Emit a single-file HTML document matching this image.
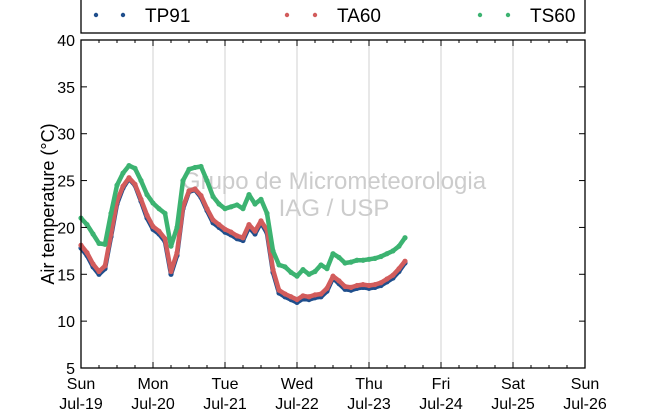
<!DOCTYPE html>
<html><head><meta charset="utf-8"><style>
body{margin:0;background:#fff;}
svg text{font-family:"Liberation Sans",sans-serif;}
</style></head><body>
<svg id="chart" width="650" height="409" viewBox="0 0 650 409" xmlns="http://www.w3.org/2000/svg">
<g id="grid"></g>
<g id="wm">
<text x="334" y="189" font-size="24" fill="#cccccc" text-anchor="middle">Grupo de Micrometeorologia</text>
<text x="334" y="216" font-size="24" fill="#cccccc" text-anchor="middle">IAG / USP</text>
</g>
<g id="series"></g>
<g id="axes"></g>
<rect x="81" y="40" width="504" height="328" fill="none" stroke="#000" stroke-width="1.3"/>
<text transform="translate(54,204) rotate(-90)" font-size="18" text-anchor="middle">Air temperature (°C)</text>
<g>
<rect x="81" y="-2" width="504" height="35" fill="#fff" stroke="#000" stroke-width="1.3"/>
<g><circle cx="96" cy="15" r="2.2" fill="#1f4e8c"/><circle cx="123" cy="15" r="2.2" fill="#1f4e8c"/><text x="145" y="22" font-size="19">TP91</text></g>
<g><circle cx="287" cy="15" r="2.2" fill="#d25c5c"/><circle cx="315" cy="15" r="2.2" fill="#d25c5c"/><text x="337" y="22" font-size="19">TA60</text></g>
<g><circle cx="480" cy="15" r="2.2" fill="#3cb371"/><circle cx="508" cy="15" r="2.2" fill="#3cb371"/><text x="530" y="22" font-size="19">TS60</text></g>
</g>
</svg>
<script>
const hours = [0,2,4,6,8,10,12,14,16,18,20,22,24,26,28,30,32,34,36,38,40,42,44,46,48,50,52,54,56,58,60,62,64,66,68,70,72,74,76,78,80,82,84,86,88,90,92,94,96,98,100,102,104,106,108];
const tp91 = [17.8,17.0,15.8,15.0,15.6,19.0,22.5,24.2,25.2,24.5,22.8,21.0,19.8,19.3,18.5,15.0,17.0,22.0,23.8,24.0,23.2,21.8,20.5,20.0,19.5,19.2,18.8,18.6,20.0,19.3,20.5,19.4,15.2,13.0,12.6,12.3,12.0,12.4,12.3,12.5,12.6,13.2,14.6,14.0,13.4,13.3,13.5,13.6,13.5,13.6,13.8,14.2,14.6,15.3,16.2];
const ta60 = [18.1,17.3,16.1,15.3,15.9,19.3,22.8,24.4,25.3,24.6,23.0,21.3,20.1,19.6,18.8,15.3,17.3,22.2,23.9,24.1,23.4,22.0,20.8,20.3,19.8,19.5,19.1,18.9,20.3,19.6,20.7,19.7,15.5,13.3,12.9,12.6,12.3,12.7,12.6,12.8,12.9,13.5,14.8,14.3,13.7,13.6,13.8,13.9,13.8,13.9,14.1,14.5,14.9,15.6,16.4];
const ts60 = [21.0,20.3,19.3,18.3,18.2,21.5,24.5,25.8,26.6,26.3,25.0,23.5,22.6,22.0,21.5,18.0,20.0,25.0,26.2,26.4,26.5,25.0,23.3,22.5,22.0,22.2,22.4,22.0,23.5,22.5,23.0,21.5,17.5,16.0,15.8,15.2,14.8,15.5,15.0,15.3,16.0,15.6,17.2,16.8,16.2,16.3,16.5,16.5,16.6,16.7,16.9,17.2,17.5,18.0,18.9];
const yTicks = [5,10,15,20,25,30,35,40];
const dayNames = ["Sun","Mon","Tue","Wed","Thu","Fri","Sat","Sun"];
const dayDates = ["Jul-19","Jul-20","Jul-21","Jul-22","Jul-23","Jul-24","Jul-25","Jul-26"];

const X0=81,X1=585,Y0=368,Y1=40;
const xs = h => X0 + h*(X1-X0)/168;
const ys = v => Y0 - (v-5)*(Y0-Y1)/35;
const NS="http://www.w3.org/2000/svg";
function mk(tag,attrs,parent){const e=document.createElementNS(NS,tag);for(const k in attrs)e.setAttribute(k,attrs[k]);parent.appendChild(e);return e;}
const grid=document.getElementById('grid'),axes=document.getElementById('axes'),ser=document.getElementById('series');
for(let d=1;d<7;d++){
  const l=mk('line',{x1:xs(d*24),x2:xs(d*24),y1:Y1,y2:Y0,stroke:'#d0d0d0','stroke-width':1},grid);
  
  
}
for(let q=1;q<28;q++){
  const x=xs(q*6),len=(q%4===0)?6:3;
  mk('line',{x1:x,x2:x,y1:Y0,y2:Y0-len,stroke:'#000'},axes);
  mk('line',{x1:x,x2:x,y1:Y1,y2:Y1+len,stroke:'#000'},axes);
}
yTicks.forEach(v=>{
  const y=ys(v);
  mk('line',{x1:X0,x2:X0+6,y1:y,y2:y,stroke:'#000'},axes);
  mk('line',{x1:X1,x2:X1-6,y1:y,y2:y,stroke:'#000'},axes);
  const t=mk('text',{x:75,y:y+6,'font-size':16,'text-anchor':'end'},axes);
  t.textContent=v;
  
  
});
dayNames.forEach((n,i)=>{
  const x=xs(i*24);
  const t=mk('text',{x:x,y:389,'font-size':16,'text-anchor':'middle'},axes);
  t.textContent=n;
  
  
  const t2=mk('text',{x:x,y:409,'font-size':16,'text-anchor':'middle'},axes);
  t2.textContent=dayDates[i];
  
  
});
function drawSeries(vals,color,name){
  const g=mk('g',{},ser);
  
  
  const pts=vals.map((v,i)=>xs(hours[i]).toFixed(1)+','+ys(v).toFixed(1)).join(' ');
  mk('polyline',{points:pts,fill:'none',stroke:color,'stroke-width':4.5,'stroke-linejoin':'round','stroke-linecap':'round'},g);
  vals.forEach((v,i)=>{
    const c=mk('circle',{cx:xs(hours[i]),cy:ys(v),r:2.6,fill:color},g);
    
    
  });
}
drawSeries(tp91,'#1f4e8c','series-tp91');
drawSeries(ta60,'#d25c5c','series-ta60');
drawSeries(ts60,'#3cb371','series-ts60');
</script>
</body></html>
